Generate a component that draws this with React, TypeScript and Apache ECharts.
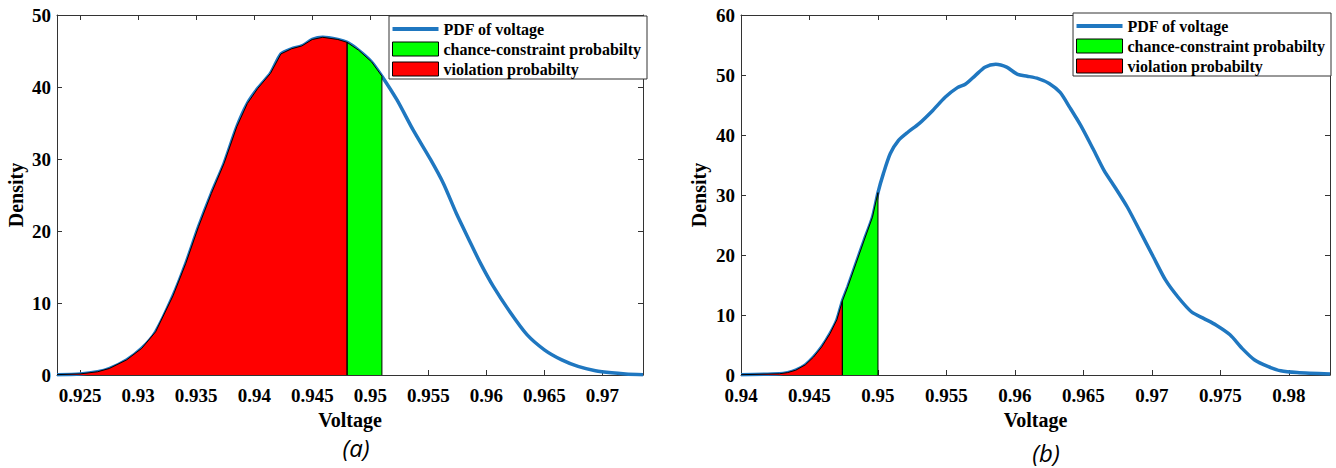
import React, { useEffect, useRef } from "react";
import * as echarts from "echarts";

// ---- Data ----
const voltageA = [0.923, 0.925, 0.9265, 0.9275, 0.929, 0.9303, 0.9315, 0.933, 0.9341, 0.9352, 0.9363, 0.9374, 0.9385, 0.9394, 0.9403, 0.9414, 0.9423, 0.9432, 0.9441, 0.945, 0.9459, 0.9472, 0.948, 0.949, 0.9501, 0.951, 0.9523, 0.9537, 0.9552, 0.9563, 0.9574, 0.9585, 0.9595, 0.9606, 0.9621, 0.9635, 0.965, 0.9665, 0.9679, 0.9694, 0.9708, 0.972, 0.9735];
const densityA = [0.05, 0.15, 0.45, 0.9, 2.1, 3.7, 6.0, 11.0, 15.5, 20.6, 25.2, 29.4, 34.5, 37.7, 39.8, 41.9, 44.6, 45.3, 45.7, 46.6, 46.9, 46.6, 46.2, 45.1, 43.5, 41.5, 38.2, 34.0, 29.9, 26.6, 22.5, 18.8, 15.5, 12.3, 8.6, 5.6, 3.5, 2.1, 1.2, 0.6, 0.3, 0.15, 0.05];
const boundsA = [0.948, 0.951]; // violation end, chance-constraint end

const voltageB = [0.94, 0.9428, 0.9434, 0.944, 0.9447, 0.9453, 0.9459, 0.9465, 0.947, 0.9474, 0.9478, 0.9484, 0.949, 0.9496, 0.95, 0.9504, 0.9509, 0.9515, 0.9522, 0.953, 0.954, 0.9549, 0.9558, 0.9564, 0.9571, 0.9578, 0.9586, 0.9594, 0.9602, 0.9609, 0.9617, 0.9625, 0.9633, 0.964, 0.9648, 0.9657, 0.9665, 0.9673, 0.9682, 0.9691, 0.9701, 0.971, 0.9719, 0.9729, 0.9738, 0.9747, 0.9757, 0.9766, 0.9775, 0.9785, 0.9794, 0.9806, 0.983];
const densityB = [0.05, 0.2, 0.4, 0.8, 1.7, 3.0, 4.7, 6.9, 9.2, 12.3, 14.7, 18.6, 22.5, 26.3, 30.4, 33.6, 36.9, 39.1, 40.5, 41.9, 44.1, 46.3, 47.9, 48.5, 49.9, 51.3, 51.8, 51.3, 50.1, 49.8, 49.4, 48.6, 47.1, 44.6, 41.6, 37.7, 34.1, 31.3, 28.0, 24.1, 19.7, 15.8, 13.0, 10.5, 9.4, 8.3, 6.7, 4.4, 2.5, 1.4, 0.7, 0.4, 0.15];
const boundsB = [0.9474, 0.95];

const xTicksA = [0.925, 0.93, 0.935, 0.94, 0.945, 0.95, 0.955, 0.96, 0.965, 0.97];
const xTicksB = [0.94, 0.945, 0.95, 0.955, 0.96, 0.965, 0.97, 0.975, 0.98];
const xRangeA = [0.923, 0.9735];
const xRangeB = [0.94, 0.983];
const yMaxA = 50;
const yMaxB = 60;

const names = ["PDF of voltage", "chance-constraint probabilty", "violation probabilty"];
const captions = ["(a)", "(b)"];

const BLUE = "#1f77c0";
const SERIF = "'Liberation Serif', 'Times New Roman', serif";

function pairs(xs: number[], ys: number[]) {
  return xs.map((x, i) => [x, ys[i]]);
}
function redArea(xs: number[], ys: number[], b0: number) {
  const pts = xs.map((x, i) => [x, ys[i]]).filter((p) => p[0] <= b0);
  pts.push([b0, 0]);
  return pts;
}
function greenArea(xs: number[], ys: number[], b0: number, b1: number) {
  const pts = xs.map((x, i) => [x, ys[i]]).filter((p) => p[0] >= b0 && p[0] <= b1);
  return [[b0, 0], ...pts, [b1, 0]];
}
const fmt = (v: number) => String(parseFloat(v.toFixed(4)));

export default function App() {
  const ref = useRef<HTMLDivElement>(null);
  useEffect(() => {
    document.body.style.margin = "0";
    const chart = echarts.init(ref.current!, null, { renderer: "svg" });
    const grids = [
      { left: 57, top: 15, width: 586, height: 360 },
      { left: 741, top: 15, width: 589, height: 360 },
    ];
    const xRanges = [xRangeA, xRangeB];
    const xTicks = [xTicksA, xTicksB];
    const yMax = [yMaxA, yMaxB];
    const labelFont = { fontFamily: SERIF, fontWeight: "bold" as const, fontSize: 19, color: "#000" };
    const nameFont = { fontFamily: SERIF, fontWeight: "bold" as const, fontSize: 20, color: "#000" };
    const axisLine = { show: true, onZero: false, lineStyle: { color: "#333" } };
    const xAxis: any[] = [];
    const yAxis: any[] = [];
    [0, 1].forEach((g) => {
      xAxis.push({
        type: "value", gridIndex: g, min: xRanges[g][0], max: xRanges[g][1],
        position: "bottom",
        name: "Voltage", nameLocation: "middle", nameGap: 29, nameTextStyle: nameFont,
        axisLine,
        axisTick: { show: true, inside: true, length: 5, customValues: xTicks[g], lineStyle: { color: "#333" } },
        axisLabel: { ...labelFont, margin: 11, customValues: xTicks[g], formatter: (v: number) => fmt(v) },
        splitLine: { show: false },
      });
      xAxis.push({
        type: "value", gridIndex: g, min: xRanges[g][0], max: xRanges[g][1], position: "top",
        axisLine,
        axisTick: { show: true, inside: true, length: 5, customValues: xTicks[g], lineStyle: { color: "#333" } },
        axisLabel: { show: false }, splitLine: { show: false },
      });
      yAxis.push({
        type: "value", gridIndex: g, min: 0, max: yMax[g], interval: 10, position: "left",
        name: "Density", nameLocation: "middle", nameGap: g === 0 ? 31 : 32, nameTextStyle: nameFont,
        axisLine,
        axisTick: { show: true, inside: true, length: 5, lineStyle: { color: "#333" } },
        axisLabel: { ...labelFont, margin: 6 },
        splitLine: { show: false },
      });
      yAxis.push({
        type: "value", gridIndex: g, min: 0, max: yMax[g], interval: 10, position: "right",
        axisLine,
        axisTick: { show: true, inside: true, length: 5, lineStyle: { color: "#333" } },
        axisLabel: { show: false }, splitLine: { show: false },
      });
    });

    const data = [
      { xs: voltageA, ys: densityA, b: boundsA },
      { xs: voltageB, ys: densityB, b: boundsB },
    ];
    const series: any[] = [];
    data.forEach((d, g) => {
      series.push({
        name: names[0], type: "line", xAxisIndex: g * 2, yAxisIndex: g * 2,
        data: pairs(d.xs, d.ys), symbol: "none", smooth: 0.25,
        lineStyle: { color: BLUE, width: 3.5 }, itemStyle: { color: BLUE }, z: 2,
      });
      series.push({
        name: names[2], type: "line", xAxisIndex: g * 2, yAxisIndex: g * 2,
        data: redArea(d.xs, d.ys, d.b[0]), symbol: "none",
        lineStyle: { color: "#000", width: 1 }, itemStyle: { color: "#ff0000" },
        areaStyle: { color: "#ff0000", opacity: 1 }, z: 3,
      });
      series.push({
        name: names[1], type: "line", xAxisIndex: g * 2, yAxisIndex: g * 2,
        data: greenArea(d.xs, d.ys, d.b[0], d.b[1]), symbol: "none",
        lineStyle: { color: "#000", width: 1 }, itemStyle: { color: "#00ff00" },
        areaStyle: { color: "#00ff00", opacity: 1 }, z: 3,
      });
    });

    const legendData = [
      { name: names[0], icon: "path://M0,0H46V4H0Z", itemStyle: { color: BLUE, borderWidth: 0 } },
      { name: names[1], icon: "rect", itemStyle: { color: "#00ff00", borderColor: "#000", borderWidth: 1 } },
      { name: names[2], icon: "rect", itemStyle: { color: "#ff0000", borderColor: "#000", borderWidth: 1 } },
    ];
    const legendBase = {
      orient: "vertical", selectedMode: false, data: legendData,
      itemWidth: 46, itemHeight: 14, itemGap: 2, padding: [4, 6, 1, 3],
      backgroundColor: "#fff", borderColor: "#333", borderWidth: 1,
      textStyle: { fontFamily: SERIF, fontWeight: "bold", fontSize: 16, lineHeight: 18, color: "#000" },
    };

    const capFont = "italic 24px 'Open Sans', sans-serif";
    chart.setOption({
      animation: false,
      backgroundColor: "#fff",
      grid: grids.map((g) => ({ ...g, show: false })),
      xAxis, yAxis, series,
      legend: [
        { ...legendBase, right: 1336 - 647, top: 16 },
        { ...legendBase, right: 1336 - 1331, top: 13 },
      ],
      graphic: [
        { type: "text", x: 356, y: 447, style: { text: captions[0], font: capFont, fill: "#000", align: "center", verticalAlign: "middle" } },
        { type: "text", x: 1046, y: 452, style: { text: captions[1], font: capFont, fill: "#000", align: "center", verticalAlign: "middle" } },
      ],
    });
    return () => chart.dispose();
  }, []);
  return <div ref={ref} style={{ width: 1336, height: 468 }} />;
}
